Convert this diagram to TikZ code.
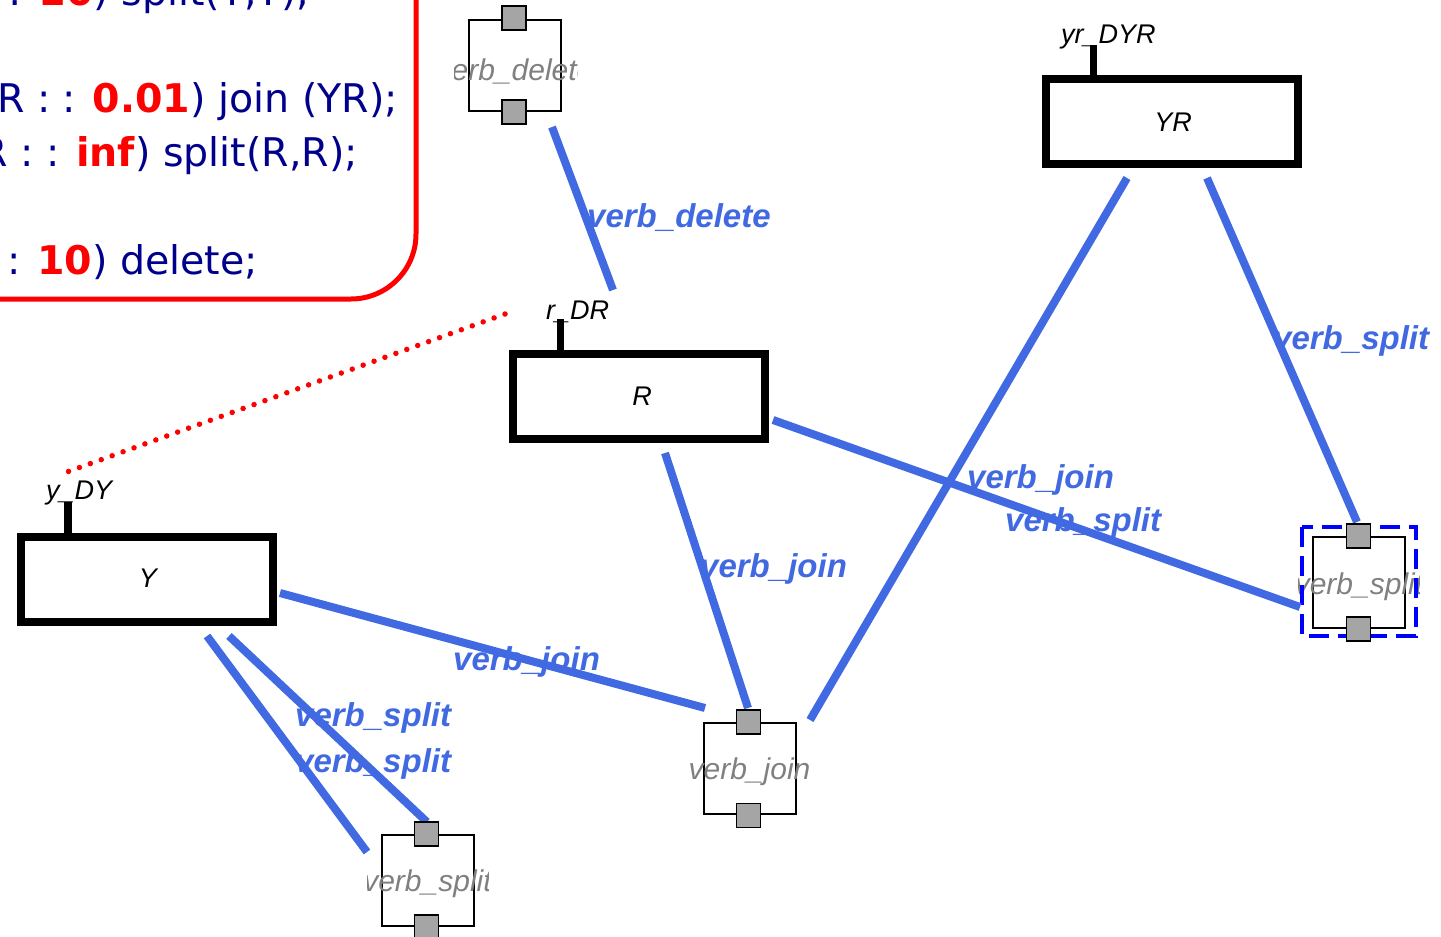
\documentclass[tikz,border=0pt]{standalone}
\usepackage{fontspec}
\setmainfont{DejaVu Sans}
\newfontfamily\labfont{Liberation Sans}
\definecolor{codeblue}{RGB}{0,0,140}
\definecolor{numred}{RGB}{255,0,0}
\definecolor{edgeblue}{RGB}{65,105,225}
\definecolor{portgray}{RGB}{165,165,165}
\definecolor{namegray}{RGB}{128,128,128}
\definecolor{selblue}{RGB}{0,0,255}

\tikzset{
  bigbox/.style={draw, line width=8pt, minimum width=252pt, minimum height=85pt, inner sep=0pt, fill=white},
  comp/.style={draw, line width=2pt, minimum width=92pt, minimum height=91pt, inner sep=0pt, fill=white},
  port/.style={draw, line width=1.6pt, fill=portgray, minimum size=24pt, inner sep=0pt},
  stub/.style={line width=7.5pt},
  flow/.style={draw=edgeblue, line width=8pt},
  flowlabel/.style={text=edgeblue, font=\labfont\bfseries\itshape\fontsize{33}{33}\selectfont, anchor=west, inner sep=0pt},
  tag/.style={font=\labfont\itshape\fontsize{27}{27}\selectfont, inner sep=0pt},
  compname/.style={text=namegray, font=\labfont\itshape\fontsize{30}{30}\selectfont, inner sep=0pt},
  codeline/.style={text=codeblue, font=\fontsize{39.5}{39.5}\selectfont, anchor=base east, inner sep=0pt},
}
\newcommand{\numtxt}[1]{\textcolor{numred}{\bfseries #1}}

\begin{document}
\begin{tikzpicture}[x=1pt, y=-1pt]
\useasboundingbox (0,0) rectangle (1441,937);
\clip (0,0) rectangle (1441,937);

% ---- rate definitions panel ----
\draw[numred, line width=5pt, rounded corners=65pt] (-120,-120) rectangle (416,299);
\node[codeline] (c1) at (310,5) {: \numtxt{10}) split(Y,Y);};
\node[codeline] (c2) at (398,112) {R : : \numtxt{0.01}) join (YR);};
\node[codeline] (c3) at (358,166) {R : : \numtxt{inf}) split(R,R);};
\node[codeline] (c4) at (258,274) {: \numtxt{10}) delete;};

% ---- species boxes ----
\node[bigbox] (YR) at (1172,121.5) {};
\node[bigbox] (R)  at (639,396.5) {};
\node[bigbox] (Y)  at (146.5,579.5) {};
\node[tag] (YRt) at (1173,122) {YR};
\node[tag] (Rt)  at (642,396) {R};
\node[tag] (Yt)  at (148,578) {Y};

% species tags with their stubs
\node[tag, anchor=west] (YRd) at (1061,37) {yr\_DYR};
\node[tag, anchor=west] (Rd)  at (546,312) {r\_DR};
\node[tag, anchor=west] (Yd)  at (46,493) {y\_DY};
\draw[stub] (1093.5,45) -- (YR.north -| 1093.5,0);
\draw[stub] (560.5,319) -- (R.north -| 560.5,0);
\draw[stub] (68,502) -- (Y.north -| 68,0);

% ---- reaction components ----
\node[comp] (vd) at (515,65) {};
\node[comp] (vj) at (749.5,768.5) {};
\node[comp] (vs) at (427.5,880) {};
\node[comp] (vr) at (1359,582) {};

\begin{scope}
  \clip (454,30) rectangle (577,100);
  \node[compname] (vdn) at (515,71) {verb\_delete};
\end{scope}
\begin{scope}
  \clip (689,733) rectangle (811,804);
  \node[compname] (vjn) at (749.5,772) {verb\_join};
\end{scope}
\begin{scope}
  \clip (367,845) rectangle (488,915);
  \node[compname] (vsn) at (427.5,884) {verb\_split};
\end{scope}
\begin{scope}
  \clip (1298,547) rectangle (1419,617);
  \node[compname] (vrn) at (1359,587) {verb\_split};
\end{scope}

% selection frame
\draw[selblue, line width=4pt, dash pattern=on 20pt off 9pt] (1302,527) rectangle (1416,636);

% ---- connector end points ----
\coordinate (e1a) at (552,127);   \coordinate (e1b) at (613,290);
\coordinate (e2a) at (1207,178);  \coordinate (e2b) at (1357,522);
\coordinate (e3a) at (1127,178);  \coordinate (e3b) at (810,720);
\coordinate (e4a) at (773,420);   \coordinate (e4b) at (1300,607);
\coordinate (e5a) at (665,453);   \coordinate (e5b) at (748,708);
\coordinate (e6a) at (280,593);   \coordinate (e6b) at (705,708);
\coordinate (e7a) at (207,636);   \coordinate (e7b) at (367,852);
\coordinate (e8a) at (229,636);   \coordinate (e8b) at (427,822);
\coordinate (d1) at (505,314);    \coordinate (d2) at (67,472);

% ---- connectors ----
\draw[flow] (e1a) -- (e1b);
\draw[flow] (e2a) -- (e2b);
\draw[flow] (e3a) -- (e3b);
\draw[flow] (e4a) -- (e4b);
\draw[flow] (e5a) -- (e5b);
\draw[flow] (e6a) -- (e6b);
\draw[flow] (e7a) -- (e7b);
\draw[flow] (e8a) -- (e8b);
\draw[numred, line width=5.5pt, line cap=round, dash pattern=on 0pt off 11.6pt] (d1) -- (d2);

% ports on top of the connectors
\node[port] (vdp1) at (514,18) {};
\node[port] (vdp2) at (514,112) {};
\node[port] (vjp1) at (748.5,722) {};
\node[port] (vjp2) at (748.5,815.5) {};
\node[port] (vsp1) at (426.5,834) {};
\node[port] (vsp2) at (426.5,927) {};
\node[port] (vrp1) at (1358.5,536) {};
\node[port] (vrp2) at (1358.5,629) {};

% ---- connector labels ----
\node[flowlabel] (l1) at (587,218) {verb\_delete};
\node[flowlabel] (l2) at (1273,341) {verb\_split};
\node[flowlabel] (l3) at (967,480) {verb\_join};
\node[flowlabel] (l4) at (1005,523) {verb\_split};
\node[flowlabel] (l5) at (700,569) {verb\_join};
\node[flowlabel] (l6) at (453,662) {verb\_join};
\node[flowlabel] (l7) at (295,718) {verb\_split};
\node[flowlabel] (l8) at (295,764) {verb\_split};
\end{tikzpicture}
\end{document}
